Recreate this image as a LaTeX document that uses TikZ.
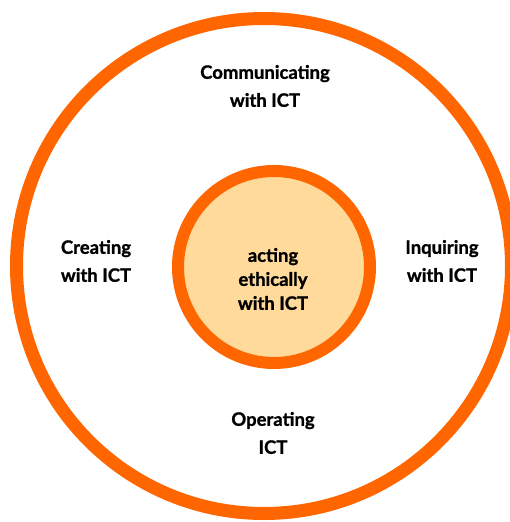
\documentclass[tikz,border=0pt]{standalone}
\usepackage{fontspec}
\setmainfont[BoldFeatures={FakeBold=1.2}]{Lato}
\usepackage{xcolor}
\definecolor{ringorange}{HTML}{FF6600}
\definecolor{corefill}{HTML}{FFDA9A}
\tikzset{
  every ring/.style={draw=ringorange,line width=13pt},
  area label/.style={font=\bfseries\fontsize{18.5}{28}\selectfont,align=center},
  core label/.style={font=\bfseries\fontsize{18.5}{24}\selectfont,align=center},
}

\begin{document}
\begin{tikzpicture}[x=1pt,y=-1pt]
\useasboundingbox (0,0) rectangle (510,522);
\draw[every ring] (264,266) circle[radius=247.5pt];
\draw[every ring,line width=12pt,fill=corefill] (274,267) circle[radius=96pt];
\node[core label] (ethics) at (273,279) {acting\\ethically\\with ICT};
\node[area label] (comm) at (265,86) {Communicating\\with ICT};
\node[area label] (create) at (96,261) {Creating\\with ICT};
\node[area label] (inquire) at (442,261) {Inquiring\\with ICT};
\node[area label] (operate) at (273,433) {Operating\\ICT};
\end{tikzpicture}
\end{document}
